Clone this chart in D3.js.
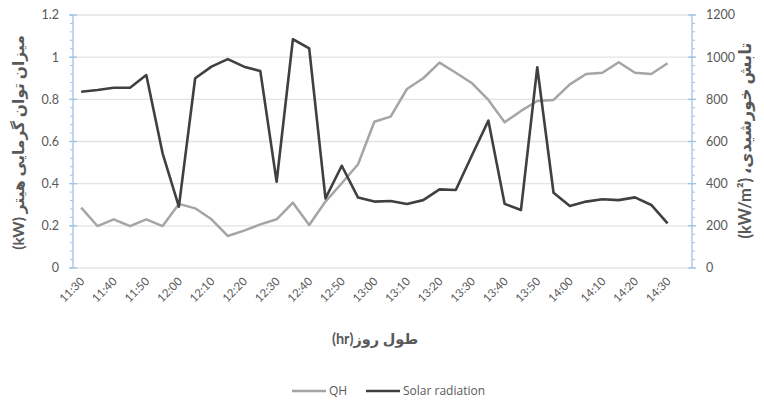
<!DOCTYPE html>
<html>
<head>
<meta charset="utf-8">
<script src="https://cdn.jsdelivr.net/npm/d3@7/dist/d3.min.js"></script>
<style>
  html, body { margin: 0; padding: 0; background: #fff; }
  svg { display: block; font-family: Lato, "DejaVu Sans", sans-serif; }
</style>
</head>
<body>
<svg id="chart" width="764" height="401"></svg>
<script>
// Time of day, every 5 minutes
const times = [
  "11:30","11:35","11:40","11:45","11:50","11:55","12:00","12:05","12:10","12:15",
  "12:20","12:25","12:30","12:35","12:40","12:45","12:50","12:55","13:00","13:05",
  "13:10","13:15","13:20","13:25","13:30","13:35","13:40","13:45","13:50","13:55",
  "14:00","14:05","14:10","14:15","14:20","14:25","14:30"
];
// Heater thermal power (kW)
const qh = [
  0.286,0.199,0.231,0.199,0.231,0.199,0.304,0.283,0.231,0.152,
  0.177,0.207,0.231,0.310,0.204,0.315,0.402,0.492,0.694,0.718,
  0.849,0.900,0.974,0.926,0.876,0.797,0.691,0.745,0.792,0.797,
  0.871,0.920,0.926,0.976,0.926,0.920,0.971
];
// Solar radiation
const solar = [
  836,844,855,855,915,544,291,900,955,991,
  955,934,409,1085,1042,330,485,334,315,318,
  304,322,373,370,536,699,304,275,952,357,
  294,315,326,322,335,299,212
];
const leftTicks = [0, 0.2, 0.4, 0.6, 0.8, 1, 1.2];
const rightTicks = [0, 200, 400, 600, 800, 1000, 1200];

const svg = d3.select("#chart");
const plotLeft = 73, plotRight = 692, plotTop = 15, plotBottom = 268;
const axisBlue = "#9dc3e6";
const textGrey = "#595959";

// Category positions: one slot per reading plus a trailing empty slot
const x = d3.scaleLinear().domain([-0.5, times.length + 0.5]).range([plotLeft, plotRight]);
const yL = d3.scaleLinear().domain([0, 1.2]).range([plotBottom, plotTop]);
const yR = d3.scaleLinear().domain([0, 1200]).range([plotBottom, plotTop]);

// Horizontal gridlines
svg.append("g").selectAll("line").data(leftTicks).join("line")
  .attr("x1", plotLeft).attr("x2", plotRight)
  .attr("y1", d => yL(d)).attr("y2", d => yL(d))
  .attr("stroke", "#e3e3e3").attr("stroke-width", 1.3);

// Left axis with minor ticks
const gL = svg.append("g").attr("transform", `translate(${plotLeft},0)`);
gL.append("line").attr("y1", plotTop).attr("y2", plotBottom).attr("stroke", axisBlue).attr("stroke-width", 1.3);
gL.selectAll(".minor").data(d3.range(0, 1.2001, 0.04)).join("line")
  .attr("class", "minor")
  .attr("x1", -3).attr("x2", 0).attr("y1", d => yL(d)).attr("y2", d => yL(d))
  .attr("stroke", axisBlue);
gL.selectAll(".major").data(leftTicks).join("line")
  .attr("class", "major")
  .attr("x1", -4).attr("x2", 4).attr("y1", d => yL(d)).attr("y2", d => yL(d))
  .attr("stroke", axisBlue).attr("stroke-width", 1.3);
gL.selectAll("text").data(leftTicks).join("text")
  .attr("x", -14).attr("y", d => yL(d)).attr("dy", "0.35em")
  .attr("text-anchor", "end").attr("fill", textGrey).attr("font-size", 12.5)
  .text(d => d3.format("~g")(d));

// Right axis with minor ticks
const gR = svg.append("g").attr("transform", `translate(${plotRight},0)`);
gR.append("line").attr("y1", plotTop).attr("y2", plotBottom).attr("stroke", axisBlue).attr("stroke-width", 1.3);
gR.selectAll(".minor").data(d3.range(0, 1200.1, 40)).join("line")
  .attr("class", "minor")
  .attr("x1", 0).attr("x2", 3).attr("y1", d => yR(d)).attr("y2", d => yR(d))
  .attr("stroke", axisBlue);
gR.selectAll(".major").data(rightTicks).join("line")
  .attr("class", "major")
  .attr("x1", -4).attr("x2", 4).attr("y1", d => yR(d)).attr("y2", d => yR(d))
  .attr("stroke", axisBlue).attr("stroke-width", 1.3);
gR.selectAll("text").data(rightTicks).join("text")
  .attr("x", 14).attr("y", d => yR(d)).attr("dy", "0.35em")
  .attr("text-anchor", "start").attr("fill", textGrey).attr("font-size", 12.5)
  .text(d => d);

// X tick labels, every other reading
const labelled = times.map((t, i) => ({t, i})).filter(d => d.i % 2 === 0);
svg.append("g").selectAll("text").data(labelled).join("text")
  .attr("transform", d => `translate(${x(d.i) + 4},${plotBottom + 14}) rotate(-45)`)
  .attr("text-anchor", "end").attr("fill", textGrey).attr("font-size", 11.5)
  .text(d => d.t);

// Series lines
const lineQ = d3.line().x((d, i) => x(i)).y(d => yL(d));
const lineS = d3.line().x((d, i) => x(i)).y(d => yR(d));
svg.append("path").datum(qh).attr("d", lineQ)
  .attr("fill", "none").attr("stroke", "#a5a5a5").attr("stroke-width", 2.5)
  .attr("stroke-linejoin", "round");
svg.append("path").datum(solar).attr("d", lineS)
  .attr("fill", "none").attr("stroke", "#404040").attr("stroke-width", 2.6)
  .attr("stroke-linejoin", "round");

// Axis titles
svg.append("text")
  .attr("transform", `translate(24,${(plotTop + plotBottom) / 2 + 1}) rotate(-90)`)
  .attr("text-anchor", "middle").attr("fill", textGrey)
  .attr("font-size", 15.5).attr("font-weight", "bold").attr("direction", "rtl")
  .text("میزان توان گرمایی هیتر  (kW)");
svg.append("text")
  .attr("transform", `translate(751,${(plotTop + plotBottom) / 2 - 1}) rotate(-90)`)
  .attr("text-anchor", "middle").attr("fill", textGrey)
  .attr("font-size", 16.5).attr("font-weight", "bold").attr("direction", "rtl")
  .text("تابش خورشیدی، (kW/m²)");
svg.append("text")
  .attr("x", 375).attr("y", 344)
  .attr("text-anchor", "middle").attr("fill", textGrey)
  .attr("font-size", 14.5).attr("font-weight", "bold").attr("direction", "rtl")
  .text("طول روز(hr)");

// Legend
const legend = [
  {name: "QH", color: "#a5a5a5", x: 292},
  {name: "Solar radiation", color: "#404040", x: 366}
];
const lg = svg.append("g").selectAll("g").data(legend).join("g");
lg.append("line").attr("x1", d => d.x).attr("x2", d => d.x + 34)
  .attr("y1", 391).attr("y2", 391).attr("stroke", d => d.color).attr("stroke-width", 2.5);
lg.append("text").attr("x", d => d.x + 37).attr("y", 391).attr("dy", "0.35em")
  .attr("fill", textGrey).attr("font-size", 12).attr("font-family", "'Open Sans', sans-serif")
  .text(d => d.name);
</script>
</body>
</html>
